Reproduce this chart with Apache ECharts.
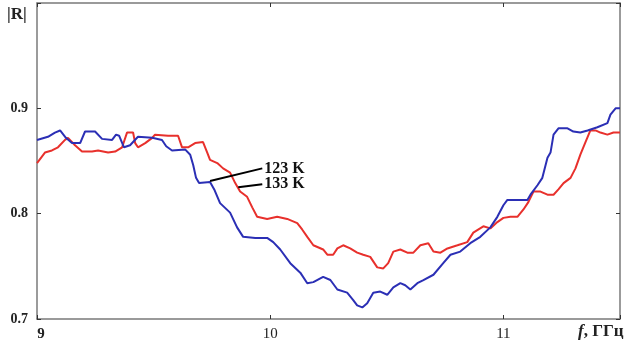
<!DOCTYPE html>
<html><head><meta charset="utf-8">
<script src="https://cdn.jsdelivr.net/npm/echarts@6/dist/echarts.min.js"></script>
<style>html,body{margin:0;padding:0;background:#fff}#c{width:641px;height:349px}</style>
</head><body><div id="c"></div>
<script>
// Blue curve (123 K): [f, |R|]
const blue123 = [
[9.000,0.870],[9.047,0.873],[9.077,0.877],[9.099,0.879],[9.124,0.872],[9.150,0.867],[9.185,0.867],
[9.206,0.878],[9.249,0.878],[9.279,0.871],[9.322,0.870],[9.339,0.875],[9.352,0.874],[9.373,0.863],
[9.399,0.865],[9.433,0.873],[9.494,0.872],[9.536,0.870],[9.554,0.864],[9.579,0.860],[9.635,0.861],
[9.657,0.856],[9.670,0.846],[9.682,0.834],[9.695,0.829],[9.742,0.830],[9.760,0.823],[9.785,0.810],
[9.828,0.801],[9.858,0.787],[9.884,0.778],[9.936,0.777],[9.987,0.777],[10.013,0.773],[10.043,0.766],
[10.086,0.753],[10.129,0.744],[10.159,0.734],[10.185,0.735],[10.227,0.740],[10.258,0.737],[10.288,0.728],
[10.330,0.725],[10.356,0.718],[10.373,0.713],[10.395,0.711],[10.416,0.715],[10.442,0.725],[10.472,0.726],
[10.502,0.723],[10.528,0.730],[10.558,0.734],[10.579,0.732],[10.601,0.728],[10.631,0.734],[10.657,0.737],
[10.700,0.742],[10.742,0.753],[10.773,0.761],[10.815,0.764],[10.858,0.772],[10.901,0.778],[10.944,0.787],
[10.974,0.797],[11.000,0.808],[11.017,0.813],[11.073,0.813],[11.103,0.813],[11.116,0.818],[11.146,0.827],
[11.167,0.834],[11.189,0.853],[11.202,0.858],[11.215,0.875],[11.236,0.881],[11.275,0.881],[11.300,0.878],
[11.330,0.877],[11.361,0.879],[11.403,0.882],[11.446,0.886],[11.459,0.894],[11.481,0.900],[11.500,0.900]
];
// Red curve (133 K): [f, |R|]
const red133 = [
[9.000,0.848],[9.034,0.858],[9.064,0.860],[9.090,0.863],[9.120,0.870],[9.133,0.872],[9.163,0.865],
[9.193,0.859],[9.236,0.859],[9.262,0.860],[9.305,0.858],[9.335,0.859],[9.365,0.863],[9.386,0.877],
[9.412,0.877],[9.421,0.867],[9.433,0.863],[9.464,0.867],[9.494,0.872],[9.506,0.875],[9.562,0.874],
[9.605,0.874],[9.622,0.863],[9.648,0.863],[9.678,0.867],[9.712,0.868],[9.730,0.858],[9.742,0.851],
[9.773,0.848],[9.798,0.843],[9.828,0.839],[9.850,0.829],[9.871,0.821],[9.901,0.816],[9.923,0.806],
[9.944,0.797],[9.987,0.795],[10.030,0.797],[10.073,0.795],[10.116,0.791],[10.137,0.785],[10.159,0.778],
[10.185,0.770],[10.227,0.766],[10.245,0.761],[10.270,0.761],[10.288,0.767],[10.313,0.770],[10.343,0.767],
[10.373,0.763],[10.399,0.761],[10.429,0.759],[10.459,0.749],[10.485,0.748],[10.506,0.753],[10.528,0.764],
[10.558,0.766],[10.588,0.763],[10.614,0.763],[10.644,0.770],[10.678,0.772],[10.700,0.764],[10.730,0.763],
[10.760,0.767],[10.803,0.770],[10.845,0.773],[10.871,0.782],[10.914,0.788],[10.944,0.786],[10.974,0.792],
[11.000,0.796],[11.030,0.797],[11.060,0.797],[11.086,0.804],[11.107,0.811],[11.129,0.821],[11.159,0.821],
[11.189,0.818],[11.215,0.818],[11.236,0.823],[11.258,0.829],[11.288,0.834],[11.309,0.843],[11.330,0.856],
[11.352,0.868],[11.373,0.879],[11.395,0.879],[11.416,0.877],[11.446,0.875],[11.472,0.877],[11.500,0.877]
];
// Leader lines for the labels (data coordinates)
const leader123 = [[9.742,0.831],[9.966,0.843]];
const leader133 = [[9.863,0.825],[9.966,0.828]];
const labelTexts = ['123 K','133 K'];
const yTicks = [0.7,0.8,0.9];
const xTicks = [9,10,11];

const serif = '"Liberation Serif","DejaVu Serif",serif';
const axisGray = '#7a7a7a';
const chart = echarts.init(document.getElementById('c'), null, {renderer:'canvas'});
const baseAxisLine = {show:true, lineStyle:{color:axisGray, width:1.5}};
chart.setOption({
  animation:false,
  backgroundColor:'#fff',
  grid:{left:37, right:21, top:3, bottom:30, containLabel:false},
  xAxis:[{
    type:'value', min:9, max:11.5, interval:1, position:'bottom',
    axisLine:baseAxisLine, axisTick:{show:true, inside:true, length:4, lineStyle:{color:'#333'}},
    splitLine:{show:false}, showMaxLabel:false,
    axisLabel:{margin:8, fontFamily:serif, fontSize:15, color:'#222',
      formatter:v => xTicks.includes(v) ? (v===9 ? '{b|9}' : String(v)) : '',
      rich:{b:{fontFamily:serif, fontSize:15, fontWeight:'bold', color:'#222', padding:[0,0,0,8]}}}
  },{
    type:'value', min:9, max:11.5, interval:1, position:'top',
    axisLine:baseAxisLine, axisTick:{show:true, inside:true, length:4, lineStyle:{color:'#333'}},
    axisLabel:{show:false}, splitLine:{show:false}
  }],
  yAxis:[{
    type:'value', min:0.7, max:1.0, interval:0.1, position:'left',
    axisLine:baseAxisLine, axisTick:{show:true, inside:true, length:4, lineStyle:{color:'#333'}},
    splitLine:{show:false},
    axisLabel:{margin:9, fontFamily:serif, fontSize:14, fontWeight:'bold', color:'#222',
      formatter:v => yTicks.some(t => Math.abs(t-v)<1e-6) ? v.toFixed(1) : ''}
  },{
    type:'value', min:0.7, max:1.0, interval:0.1, position:'right',
    axisLine:baseAxisLine, axisTick:{show:true, inside:true, length:4, lineStyle:{color:'#333'}},
    axisLabel:{show:false}, splitLine:{show:false}
  }],
  graphic:[
    {type:'text', left:7, top:6, style:{text:'|R|', font:'bold 17px '+serif, fill:'#222'}},
    {type:'text', left:578, top:323, style:{text:'{i|f}{b|, ГГц}', fill:'#222',
      rich:{i:{fontFamily:serif, fontSize:17, fontStyle:'italic', fontWeight:'bold', fill:'#222'},
            b:{fontFamily:serif, fontSize:17, fontWeight:'bold', fill:'#222'}}}}
  ],
  series:[
    {type:'line', data:red133, showSymbol:false, lineStyle:{color:'#e8302c', width:2}, z:2},
    {type:'line', data:blue123, showSymbol:false, lineStyle:{color:'#2b2fb5', width:2}, z:3},
    {type:'line', data:leader123, showSymbol:false, lineStyle:{color:'#000', width:2}, z:4,
      endLabel:{show:true, formatter:labelTexts[0], fontFamily:serif, fontSize:16, fontWeight:'bold', color:'#111', distance:2, backgroundColor:'#fff'}},
    {type:'line', data:leader133, showSymbol:false, lineStyle:{color:'#000', width:2}, z:4,
      endLabel:{show:true, formatter:labelTexts[1], fontFamily:serif, fontSize:16, fontWeight:'bold', color:'#111', distance:2, backgroundColor:'#fff'}}
  ]
});
</script></body></html>
